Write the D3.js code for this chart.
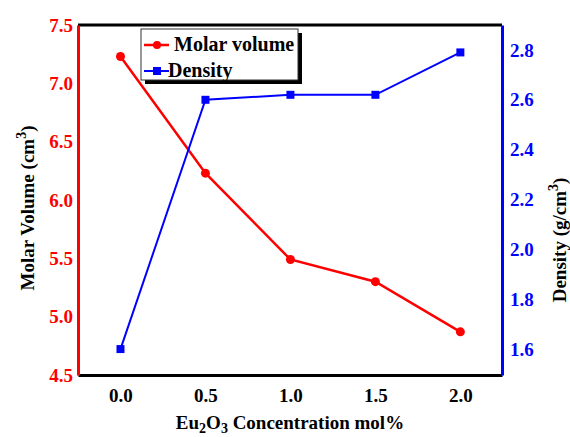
<!DOCTYPE html>
<html>
<head>
<meta charset="utf-8">
<script src="https://cdn.jsdelivr.net/npm/d3@7"></script>
<style>
  body { margin: 0; background: #fff; }
  svg { display: block; }
  svg text { font-family: 'Liberation Serif', 'DejaVu Serif', serif; font-weight: bold; }
</style>
</head>
<body>
<svg width="570" height="437"></svg>
<script>
const concentration = [0.0, 0.5, 1.0, 1.5, 2.0];
const molar_volume = [7.23, 6.23, 5.49, 5.30, 4.87];
const density = [1.60, 2.60, 2.62, 2.62, 2.79];
const x_ticks = [0.0, 0.5, 1.0, 1.5, 2.0];
const y_left_ticks = [4.5, 5.0, 5.5, 6.0, 6.5, 7.0, 7.5];
const y_right_ticks = [1.6, 1.8, 2.0, 2.2, 2.4, 2.6, 2.8];

const plot_left = 78, plot_right = 502, plot_top = 25, plot_bottom = 375;
const serif = "'Liberation Serif', 'DejaVu Serif', serif";
const svg = d3.select("svg");

const x = d3.scaleLinear().domain([-0.25, 2.245]).range([plot_left, plot_right]);
const y_left = d3.scaleLinear().domain([4.5, 7.5]).range([plot_bottom, plot_top]);
const y_right = d3.scaleLinear().domain([1.496, 2.9]).range([plot_bottom, plot_top]);

// frame: top black
svg.append("line").attr("x1", plot_left).attr("x2", plot_right).attr("y1", plot_top).attr("y2", plot_top)
	.attr("stroke", "#000").attr("stroke-width", 3);

// axes (no tick marks)
function style_axis(g, color) {
	g.attr("font-family", serif).attr("font-size", null);
	g.select(".domain").attr("stroke", color).attr("stroke-width", 3);
	g.selectAll("text").attr("fill", color)
		.style("font-family", serif).style("font-weight", "bold").style("font-size", "19px");
}

const x_axis = svg.append("g")
	.attr("transform", "translate(0," + plot_bottom + ")")
	.call(d3.axisBottom(x).tickValues(x_ticks).tickSize(0).tickPadding(14).tickFormat(d3.format(".1f")));
style_axis(x_axis, "#000");

const yl_axis = svg.append("g")
	.attr("transform", "translate(" + plot_left + ",0)")
	.call(d3.axisLeft(y_left).tickValues(y_left_ticks).tickSize(0).tickPadding(5).tickFormat(d3.format(".1f")));
style_axis(yl_axis, "#f00");

const yr_axis = svg.append("g")
	.attr("transform", "translate(" + plot_right + ",0)")
	.call(d3.axisRight(y_right).tickValues(y_right_ticks).tickSize(0).tickPadding(8).tickFormat(d3.format(".1f")));
style_axis(yr_axis, "#00f");

// lines
const red_line = d3.line().x((d, i) => x(concentration[i])).y(d => y_left(d));
const blue_line = d3.line().x((d, i) => x(concentration[i])).y(d => y_right(d));

svg.append("path").datum(molar_volume).attr("d", red_line)
	.attr("fill", "none").attr("stroke", "#f00").attr("stroke-width", 2.5);
svg.append("path").datum(density).attr("d", blue_line)
	.attr("fill", "none").attr("stroke", "#00f").attr("stroke-width", 2);

svg.selectAll(".mv").data(molar_volume).enter().append("circle")
	.attr("cx", (d, i) => x(concentration[i])).attr("cy", d => y_left(d))
	.attr("r", 4.5).attr("fill", "#f00");
svg.selectAll(".dn").data(density).enter().append("rect")
	.attr("x", (d, i) => x(concentration[i]) - 4).attr("y", d => y_right(d) - 4)
	.attr("width", 8).attr("height", 8).attr("fill", "#00f");

// legend
const lg = svg.append("g");
lg.append("rect").attr("x", 145).attr("y", 33).attr("width", 157).attr("height", 51).attr("fill", "#000");
lg.append("rect").attr("x", 141).attr("y", 29).attr("width", 157).attr("height", 51)
	.attr("fill", "#fff").attr("stroke", "#333").attr("stroke-width", 1);
lg.append("line").attr("x1", 144).attr("x2", 169).attr("y1", 45).attr("y2", 45).attr("stroke", "#f00").attr("stroke-width", 2.5);
lg.append("circle").attr("cx", 157).attr("cy", 45).attr("r", 4).attr("fill", "#f00");
lg.append("text").attr("x", 174).attr("y", 51).style("font-size", "20px").attr("fill", "#000").text("Molar volume");
lg.append("line").attr("x1", 144).attr("x2", 169).attr("y1", 71).attr("y2", 71).attr("stroke", "#00f").attr("stroke-width", 2);
lg.append("rect").attr("x", 153).attr("y", 67).attr("width", 8).attr("height", 8).attr("fill", "#00f");
lg.append("text").attr("x", 168).attr("y", 77).style("font-size", "20px").attr("fill", "#000").text("Density");

// axis titles
const xt = svg.append("text").attr("x", 290).attr("y", 429).attr("text-anchor", "middle")
	.style("font-size", "19px").attr("fill", "#000");
xt.append("tspan").text("Eu");
xt.append("tspan").attr("dy", 4).style("font-size", "14px").text("2");
xt.append("tspan").attr("dy", -4).text("O");
xt.append("tspan").attr("dy", 4).style("font-size", "14px").text("3");
xt.append("tspan").attr("dy", -4).text(" Concentration mol%");

const ylt = svg.append("text").attr("transform", "translate(34,208) rotate(-90)")
	.attr("text-anchor", "middle").style("font-size", "19px").attr("fill", "#000");
ylt.append("tspan").text("Molar Volume (cm");
ylt.append("tspan").attr("dy", -8).style("font-size", "14px").text("3");
ylt.append("tspan").attr("dy", 8).text(")");

const yrt = svg.append("text").attr("transform", "translate(566,240) rotate(-90)")
	.attr("text-anchor", "middle").style("font-size", "19px").attr("fill", "#000");
yrt.append("tspan").text("Density (g/cm");
yrt.append("tspan").attr("dy", -8).style("font-size", "14px").text("3");
yrt.append("tspan").attr("dy", 8).text(")");
</script>
</body>
</html>
